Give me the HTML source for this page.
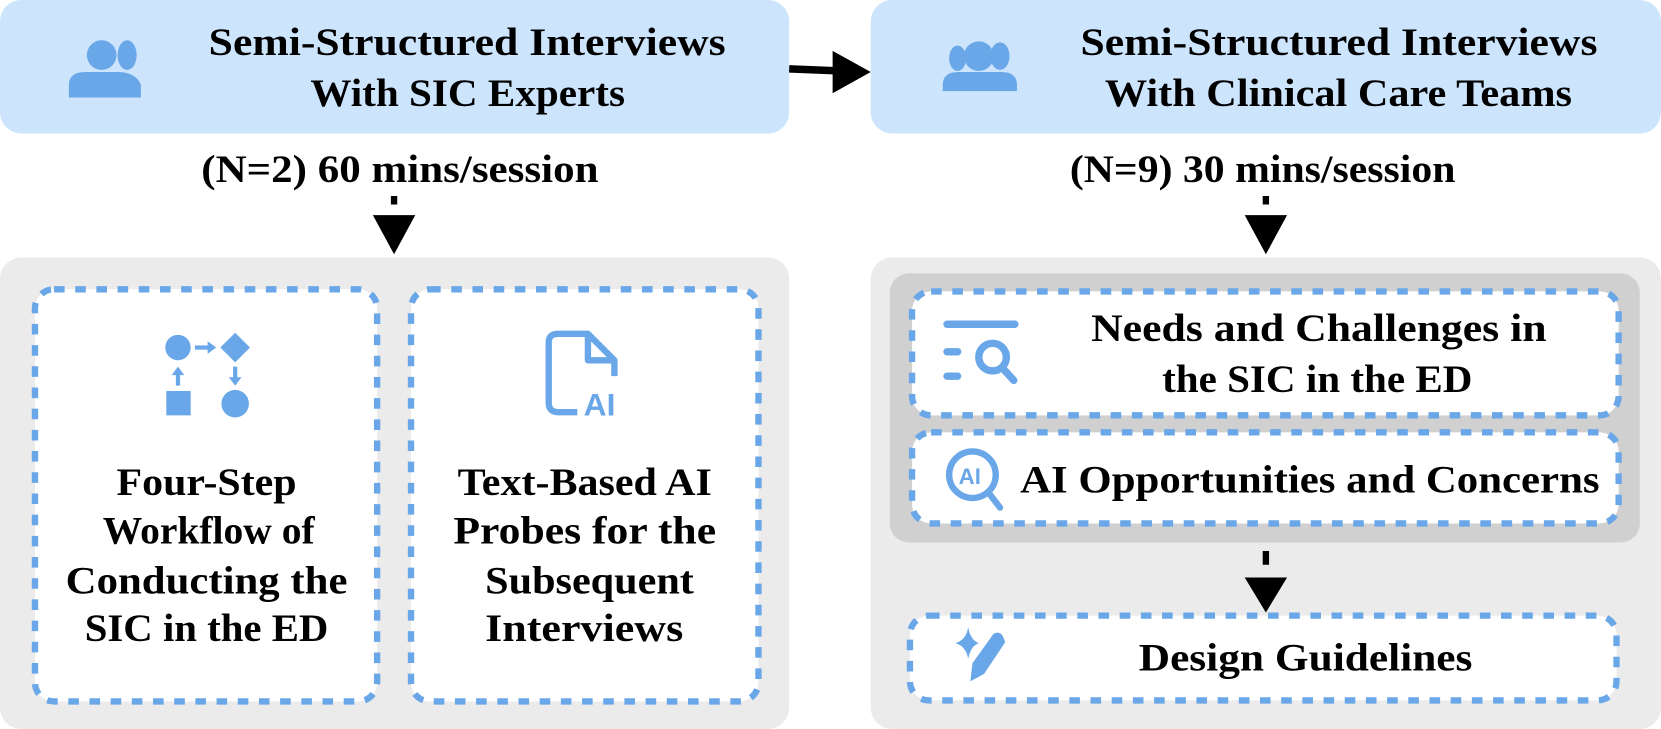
<!DOCTYPE html>
<html><head><meta charset="utf-8"><style>
html,body{margin:0;padding:0;background:#fff;}
svg{display:block}
text{font-family:"Liberation Serif",serif;font-weight:bold;font-size:37px;fill:#000;}
</style></head><body>
<svg width="1661" height="729" viewBox="0 0 1568 688" preserveAspectRatio="none" xmlns="http://www.w3.org/2000/svg">
<rect x="0" y="0" width="745" height="126" rx="20" fill="#cce4fc"/>
<rect x="822" y="0" width="746" height="126" rx="20" fill="#cce4fc"/>
<line x1="745" y1="65" x2="795" y2="67" stroke="#000" stroke-width="7"/>
<polygon points="786,48 822,68 786,88" fill="#000"/>
<text x="197" y="52" textLength="488" lengthAdjust="spacingAndGlyphs">Semi-Structured Interviews</text>
<text x="293" y="100" textLength="297" lengthAdjust="spacingAndGlyphs">With SIC Experts</text>
<text x="1020" y="52" textLength="488" lengthAdjust="spacingAndGlyphs">Semi-Structured Interviews</text>
<text x="1043" y="100" textLength="441" lengthAdjust="spacingAndGlyphs">With Clinical Care Teams</text>
<text x="190" y="172" textLength="375" lengthAdjust="spacingAndGlyphs">(N=2) 60 mins/session</text>
<text x="1010" y="172" textLength="364" lengthAdjust="spacingAndGlyphs">(N=9) 30 mins/session</text>
<g fill="#6aa7e8">
<circle cx="96" cy="52" r="14"/><ellipse cx="120" cy="52" rx="9" ry="14"/>
<path d="M65 92 V80 Q65 68 81 68 H111 Q128 68 133 80 V92 Z"/>
</g>
<g fill="#6aa7e8">
<circle cx="924" cy="53" r="14"/><ellipse cx="944" cy="53" rx="9" ry="13"/><ellipse cx="904" cy="55" rx="8" ry="12"/>
<path d="M890 80 Q890 68 905 68 H945 Q960 68 960 80 V86 H890 Z"/>
</g>
<rect x="369" y="185" width="6" height="8" fill="#000"/>
<polygon points="352,203 392,203 372,240" fill="#000"/>
<rect x="1192" y="185" width="6" height="8" fill="#000"/>
<polygon points="1175,203 1215,203 1195,240" fill="#000"/>
<rect x="0" y="243" width="745" height="445" rx="20" fill="#ebebeb"/>
<rect x="822" y="243" width="746" height="445" rx="20" fill="#ebebeb"/>
<rect x="840" y="258" width="708" height="254" rx="18" fill="#d0d0d0"/>
<g fill="#fff" stroke="#6aa7e8" stroke-width="6" stroke-dasharray="10 10">
<rect x="33" y="273" width="323" height="389" rx="18"/>
<rect x="388" y="273" width="328" height="389" rx="18"/>
<rect x="861" y="275" width="667" height="117" rx="18"/>
<rect x="861" y="408" width="667" height="86" rx="18"/>
<rect x="859" y="581" width="667" height="80" rx="18"/>
</g>
<rect x="1192" y="520" width="6" height="13" fill="#000"/>
<polygon points="1175,545 1215,545 1195,578" fill="#000"/>
<g fill="#6aa7e8" stroke="#6aa7e8">
<circle cx="168" cy="328" r="12" stroke="none"/>
<polygon points="222,314 236,328 222,342 208,328" stroke="none"/>
<rect x="157" y="369" width="23" height="23" stroke="none"/>
<circle cx="222" cy="381" r="13" stroke="none"/>
<line x1="184" y1="328" x2="198" y2="328" stroke-width="4"/><polygon points="196,322 204,328 196,334" stroke="none"/>
<line x1="168" y1="352" x2="168" y2="364" stroke-width="4"/><polygon points="162,354 168,346 174,354" stroke="none"/>
<line x1="222" y1="346" x2="222" y2="358" stroke-width="4"/><polygon points="216,356 222,364 228,356" stroke="none"/>
</g>
<g fill="none" stroke="#6aa7e8" stroke-width="6" stroke-linejoin="round">
<path d="M545 389 H527 Q518 389 518 380 V323 Q518 315 527 315 H555 L580 340 V355"/>
<path d="M555 315 V340 H580"/>
</g>
<text x="551" y="392" style="font-family:'Liberation Sans',sans-serif;font-size:30px;fill:#6aa7e8">AI</text>
<text x="110" y="467" textLength="170" lengthAdjust="spacingAndGlyphs">Four-Step</text>
<text x="97" y="513" textLength="200" lengthAdjust="spacingAndGlyphs">Workflow of</text>
<text x="62" y="560" textLength="266" lengthAdjust="spacingAndGlyphs">Conducting the</text>
<text x="80" y="605" textLength="230" lengthAdjust="spacingAndGlyphs">SIC in the ED</text>
<text x="432" y="467" textLength="240" lengthAdjust="spacingAndGlyphs">Text-Based AI</text>
<text x="428" y="513" textLength="248" lengthAdjust="spacingAndGlyphs">Probes for the</text>
<text x="458" y="560" textLength="197" lengthAdjust="spacingAndGlyphs">Subsequent</text>
<text x="458" y="605" textLength="187" lengthAdjust="spacingAndGlyphs">Interviews</text>
<text x="1030" y="322" textLength="430" lengthAdjust="spacingAndGlyphs">Needs and Challenges in</text>
<text x="1097" y="370" textLength="293" lengthAdjust="spacingAndGlyphs">the SIC in the ED</text>
<text x="963" y="465" textLength="547" lengthAdjust="spacingAndGlyphs">AI Opportunities and Concerns</text>
<text x="1075" y="633" textLength="315" lengthAdjust="spacingAndGlyphs">Design Guidelines</text>
<g stroke="#6aa7e8" stroke-width="7" stroke-linecap="round" fill="none">
<line x1="894" y1="306" x2="958" y2="306"/>
<line x1="894" y1="332" x2="904" y2="332"/>
<line x1="894" y1="355" x2="904" y2="355"/>
<circle cx="937" cy="337" r="13"/>
<line x1="947" y1="348" x2="957" y2="359"/>
</g>
<g stroke="#6aa7e8" stroke-width="6" fill="none" stroke-linecap="round">
<circle cx="918" cy="448" r="22"/>
<line x1="934" y1="466" x2="944" y2="479"/>
</g>
<text x="905" y="457" style="font-family:'Liberation Sans',sans-serif;font-weight:bold;font-size:21px;fill:#6aa7e8">AI</text>
<g fill="#6aa7e8">
<path d="M914 592 Q916 604 924 607 Q916 610 914 622 Q912 610 902 607 Q912 604 914 592 Z"/>
<path d="M916 643 L918 626 L938 598 Q944 595 947 601 L949 606 L929 636 Z"/>
</g>
</svg>
</body></html>
